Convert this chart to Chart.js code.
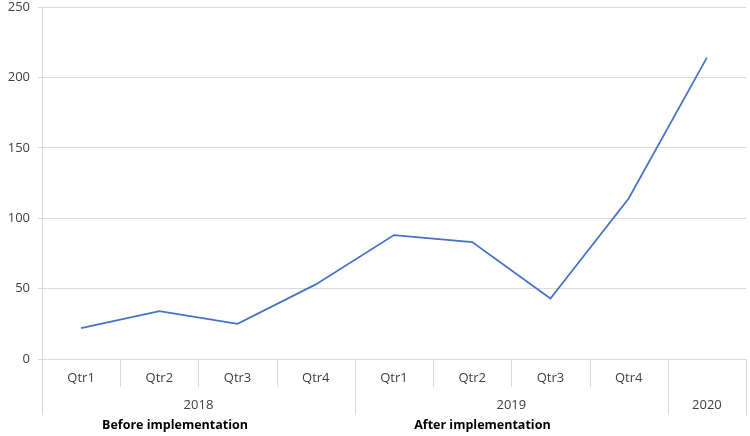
<!DOCTYPE html>
<html>
<head>
<meta charset="utf-8">
<script src="https://cdn.jsdelivr.net/npm/chart.js@4/dist/chart.umd.min.js"></script>
<style>
    html, body { margin: 0; padding: 0; background: #fff; }
    #wrap { width: 750px; height: 436px; position: relative; }
</style>
</head>
<body>
<div id="wrap"><canvas id="lineChart"></canvas></div>
<script>
    // data
    const quarters = ['Qtr1', 'Qtr2', 'Qtr3', 'Qtr4', 'Qtr1', 'Qtr2', 'Qtr3', 'Qtr4', ''];
    const years = ['2018', '2019', '2020'];
    const yearSpans = [4, 4, 1];
    const phases = ['Before implementation', 'After implementation'];
    const values = [22, 34, 25, 53, 88, 83, 43, 114, 214];
    const yTicks = [0, 50, 100, 150, 200, 250];

    const gridColor = '#d9d9d9';
    const textColor = '#404040';

    // draws the grouped category axis (quarters / years) like a table
    const groupedAxis = {
        id: 'groupedAxis',
        afterDraw(chart) {
            const ctx = chart.ctx;
            const area = chart.chartArea;
            const n = quarters.length;
            const w = (area.right - area.left) / n;
            const base = area.bottom;
            const qRowEnd = base + 28;
            const yRowEnd = base + 56;

            ctx.save();
            ctx.strokeStyle = gridColor;
            ctx.lineWidth = 1;

            // separators between categories
            let edges = [0];
            let acc = 0;
            yearSpans.forEach(s => { acc += s; edges.push(acc); });
            for (let i = 0; i <= n; i++) {
                const x = Math.round(area.left + i * w) + 0.5;
                const full = edges.includes(i);
                ctx.beginPath();
                ctx.moveTo(x, base);
                ctx.lineTo(x, full ? yRowEnd : qRowEnd);
                ctx.stroke();
            }

            ctx.fillStyle = textColor;
            ctx.textAlign = 'center';
            ctx.textBaseline = 'middle';
            ctx.font = '13px "Open Sans"';
            quarters.forEach((q, i) => {
                ctx.fillText(q, chart.scales.x.getPixelForValue(i), base + 19);
            });

            years.forEach((y, i) => {
                const mid = (edges[i] + edges[i + 1]) / 2;
                ctx.fillText(y, area.left + mid * w, base + 46);
            });

            ctx.fillStyle = '#000';
            ctx.font = 'bold 12.5px "Open Sans"';
            const phaseAt = [1.7, 5.63];
            phases.forEach((p, i) => {
                ctx.fillText(p, area.left + phaseAt[i] * w, base + 66);
            });
            ctx.restore();
        }
    };

    const lineChart = new Chart(document.getElementById('lineChart'), {
        type: 'line',
        data: {
            labels: quarters,
            datasets: [{
                label: 'Series',
                data: values,
                borderColor: '#4472c4',
                borderWidth: 1.75,
                pointRadius: 0,
                tension: 0,
                fill: false
            }]
        },
        options: {
            responsive: true,
            maintainAspectRatio: false,
            animation: false,
            layout: { padding: { top: 7, right: 4, bottom: 77, left: 0 } },
            plugins: {
                legend: { display: false },
                tooltip: { enabled: false }
            },
            scales: {
                x: { display: false, offset: true },
                y: {
                    min: 0,
                    max: 250,
                    afterBuildTicks: scale => { scale.ticks = yTicks.map(v => ({ value: v })); },
                    afterFit: scale => {
                        scale.width = 42;
                        scale.paddingTop = 0;
                        scale.paddingBottom = 0;
                    },
                    grid: { color: gridColor, tickLength: 4 },
                    border: { color: gridColor },
                    ticks: {
                        color: textColor,
                        padding: 8,
                        font: { family: 'Open Sans', size: 13 }
                    }
                }
            }
        },
        plugins: [groupedAxis]
    });
</script>
</body>
</html>
